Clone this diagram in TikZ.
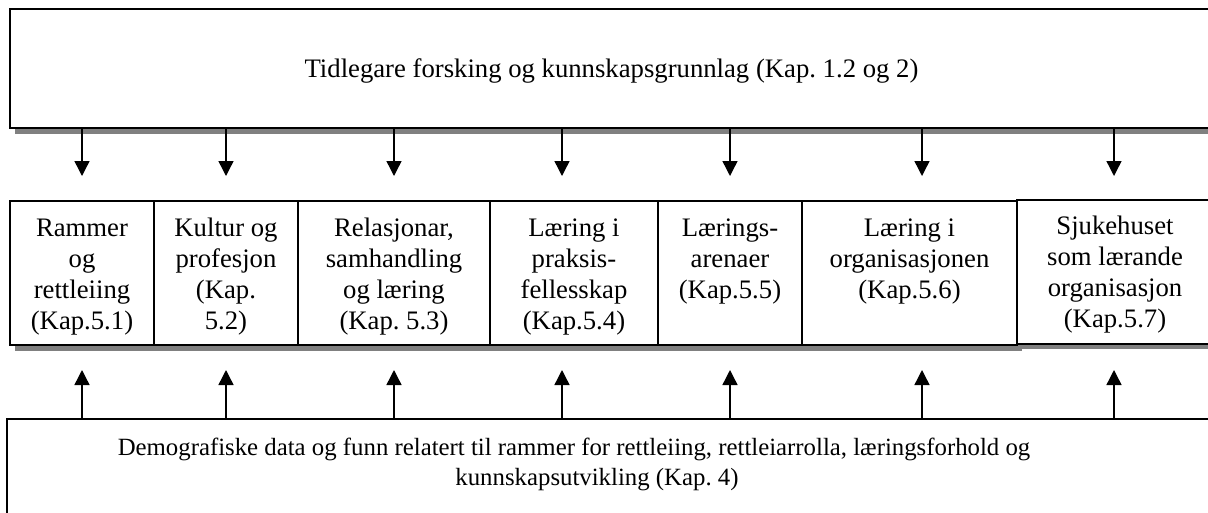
\documentclass[tikz,border=0pt]{standalone}
\usepackage{fontspec}
\setmainfont{Liberation Serif}
\usetikzlibrary{arrows.meta,shadows}
\definecolor{shadowgray}{RGB}{128,128,128}
\newcommand{\mtxt}[2]{\parbox[t][117pt][t]{#1}{\centering\strut #2}}
\frenchspacing
\begin{document}
\frenchspacing
\begin{tikzpicture}[x=1pt,y=-1pt,
  every node/.style={font=\fontsize{26.7}{31}\selectfont},
  frame/.style={draw=black, line width=2pt, fill=white, inner sep=0pt, outer sep=0pt},
  shad/.style={drop shadow={shadow xshift=5pt,shadow yshift=-5.5pt,fill=shadowgray,opacity=1}},
  mbox/.style={frame, shad, anchor=north west, minimum height=144pt},
  arr/.style={line width=1.4pt, -{Triangle[width=15pt,length=15pt]}, shorten >=25pt}]
\useasboundingbox (0,0) rectangle (1208,512);

% top box
\node[frame,shad,anchor=north west,minimum width=1203pt,minimum height=119pt,
      text height=19pt,text depth=2pt] (top) at (10,9)
  {Tidlegare forsking og kunnskapsgrunnlag (Kap. 1.2 og 2)};

% middle row
\node[mbox,minimum width=144pt] (b1) at (10,201)  {\mtxt{142pt}{Rammer\\og\\rettleiing\\(Kap.5.1)}};
\node[mbox,minimum width=144pt] (b2) at (154,201) {\mtxt{142pt}{Kultur og\\profesjon\\(Kap.\\5.2)}};
\node[mbox,minimum width=192pt] (b3) at (298,201) {\mtxt{190pt}{Relasjonar,\\samhandling\\og læring\\(Kap. 5.3)}};
\node[mbox,minimum width=168pt] (b4) at (490,201) {\mtxt{166pt}{Læring i\\praksis-\\fellesskap\\(Kap.5.4)}};
\node[mbox,minimum width=144pt] (b5) at (658,201) {\mtxt{142pt}{Lærings-\\arenaer\\(Kap.5.5)}};
\node[mbox,minimum width=215pt] (b6) at (802,201) {\mtxt{213pt}{Læring i\\organisasjonen\\(Kap.5.6)}};
\node[mbox,minimum width=196pt] (b7) at (1017,199.5) {\mtxt{194pt}{Sjukehuset\\som lærande\\organisasjon\\(Kap.5.7)}};

% bottom box
\node[frame,anchor=north west,minimum width=1210pt,minimum height=120pt,
      font=\fontsize{24.8}{30}\selectfont] (bot) at (7,419)
  {\parbox[t][90pt][t]{1190pt}{\centering\strut
   \mbox{Demografiske data og funn relatert til rammer for rettleiing, rettleiarrolla, læringsforhold og\hspace{76pt}}\\
   \mbox{kunnskapsutvikling (Kap. 4)\hspace{30pt}}}};

% arrow columns
\coordinate (ax1) at (82,0);
\coordinate (ax2) at (226,0);
\coordinate (ax3) at (394,0);
\coordinate (ax4) at (562,0);
\coordinate (ax5) at (730,0);
\coordinate (ax6) at (922,0);
\coordinate (ax7) at (1114,0);

\foreach \i in {1,...,6}{
  \draw[arr] (top.south -| ax\i) -- (b\i.north -| ax\i);
  \draw[arr] (bot.north -| ax\i) -- (b\i.south -| ax\i);
}
\draw[arr,shorten >=23.5pt] (top.south -| ax7) -- (b7.north -| ax7);
\draw[arr,shorten >=26.5pt] (bot.north -| ax7) -- (b7.south -| ax7);
\end{tikzpicture}
\end{document}
